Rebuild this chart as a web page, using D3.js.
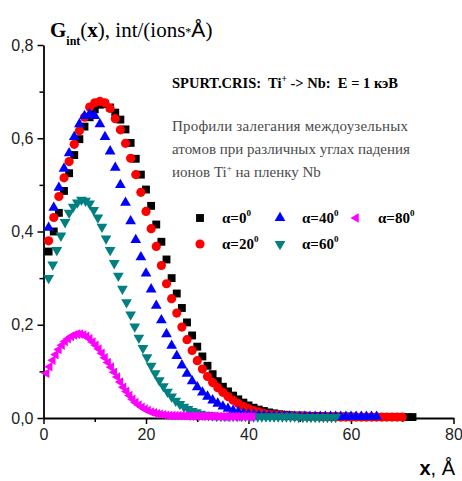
<!DOCTYPE html>
<html>
<head>
<meta charset="utf-8">
<script src="https://cdn.jsdelivr.net/npm/d3@7"></script>
<style>
  body { margin: 0; background: #fff; }
  svg { display: block; }
</style>
</head>
<body>
<svg id="chart" width="462" height="481"></svg>
<script>
// Incidence angles of the Ti+ ions (degrees)
const angles = ["0", "20", "40", "60", "80"];

// Depth grid of each profile, Å: first point and spacing
const depthStart = [1, 1, 1, 1, 0.6];
const depthStep = [1, 1, 1, 0.8, 0.6];

// Interstitial distributions G_int(x), int/(ions*Å)
const gAlpha0 = [
  0.357, 0.400, 0.440, 0.487, 0.525, 0.564, 0.598, 0.625, 0.645, 0.662,
  0.672, 0.673, 0.666, 0.655, 0.640, 0.619, 0.590, 0.556, 0.522, 0.490,
  0.455, 0.415, 0.378, 0.340, 0.300, 0.267, 0.236, 0.205, 0.177, 0.153,
  0.132, 0.112, 0.094, 0.079, 0.067, 0.057, 0.048, 0.040, 0.033, 0.027,
  0.022, 0.018, 0.015, 0.012, 0.010, 0.008, 0.007, 0.006, 0.005, 0.005,
  0.005, 0.004, 0.004, 0.004, 0.003, 0.003, 0.003, 0.003, 0.003, 0.003,
  0.002, 0.002, 0.002, 0.002, 0.002, 0.002, 0.002, 0.002, 0.002, 0.002,
  0.002, 0.002
];
const gAlpha20 = [
  0.380, 0.430, 0.475, 0.515, 0.550, 0.587, 0.616, 0.645, 0.667, 0.676,
  0.679, 0.676, 0.664, 0.642, 0.618, 0.589, 0.557, 0.522, 0.484, 0.443,
  0.406, 0.368, 0.327, 0.288, 0.256, 0.225, 0.195, 0.168, 0.145, 0.123,
  0.105, 0.089, 0.076, 0.065, 0.055, 0.046, 0.038, 0.031, 0.025, 0.020,
  0.016, 0.013, 0.010, 0.008, 0.007, 0.006, 0.005, 0.005, 0.004, 0.004,
  0.004, 0.003, 0.003, 0.003, 0.003, 0.003, 0.003, 0.002, 0.002, 0.002,
  0.002, 0.002, 0.002, 0.002, 0.002, 0.002, 0.002, 0.002, 0.002, 0.002
];
const gAlpha40 = [
  0.408, 0.451, 0.494, 0.535, 0.568, 0.603, 0.630, 0.648, 0.652, 0.648,
  0.630, 0.603, 0.572, 0.537, 0.500, 0.462, 0.422, 0.382, 0.345, 0.310,
  0.276, 0.241, 0.210, 0.180, 0.155, 0.133, 0.113, 0.095, 0.079, 0.066,
  0.055, 0.046, 0.038, 0.031, 0.025, 0.020, 0.016, 0.013, 0.010, 0.008,
  0.007, 0.006, 0.005, 0.005, 0.004, 0.004, 0.004, 0.004, 0.003, 0.003,
  0.003, 0.003, 0.003, 0.003, 0.003, 0.003, 0.003, 0.003, 0.003, 0.003,
  0.003, 0.003, 0.003, 0.003, 0.003
];
const gAlpha60 = [
  0.300, 0.329, 0.360, 0.391, 0.420, 0.440, 0.453, 0.462, 0.468, 0.466,
  0.460, 0.446, 0.430, 0.410, 0.385, 0.360, 0.332, 0.305, 0.277, 0.248,
  0.222, 0.196, 0.172, 0.150, 0.130, 0.112, 0.096, 0.081, 0.068, 0.056,
  0.046, 0.037, 0.030, 0.024, 0.019, 0.015, 0.012, 0.009, 0.007, 0.006,
  0.005, 0.004, 0.004, 0.004, 0.004, 0.004, 0.004, 0.004, 0.004, 0.003,
  0.003, 0.003, 0.003, 0.003, 0.003, 0.003, 0.003, 0.003, 0.003, 0.003,
  0.003, 0.002, 0.002, 0.002, 0.002, 0.002, 0.002, 0.002, 0.002, 0.002,
  0.002
];
const gAlpha80 = [
  0.096, 0.110, 0.124, 0.136, 0.147, 0.156, 0.164, 0.170, 0.175, 0.178,
  0.180, 0.180, 0.178, 0.175, 0.170, 0.163, 0.156, 0.148, 0.139, 0.129,
  0.119, 0.109, 0.098, 0.088, 0.077, 0.066, 0.057, 0.048, 0.040, 0.033,
  0.028, 0.023, 0.019, 0.016, 0.013, 0.011, 0.009, 0.008, 0.007, 0.006,
  0.005, 0.005, 0.005, 0.005, 0.005, 0.005, 0.004, 0.004, 0.004, 0.004,
  0.004, 0.004, 0.004, 0.004, 0.004, 0.004, 0.003, 0.003, 0.003, 0.003,
  0.003, 0.003, 0.003, 0.003, 0.003, 0.003, 0.003, 0.003
];

// Axis ticks
const xTicks = [0, 20, 40, 60, 80];
const xMinorTicks = [10, 30, 50, 70];
const yTicks = [0, 0.2, 0.4, 0.6, 0.8];
const yTickLabels = ["0,0", "0,2", "0,4", "0,6", "0,8"];
const yMinorTicks = [0.1, 0.3, 0.5, 0.7];

const profiles = [gAlpha0, gAlpha20, gAlpha40, gAlpha60, gAlpha80];

// Marker styling per angle
const markerStyle = [
  { type: d3.symbolSquare,   size: 62, rotate: 0,   color: "#000000" },
  { type: d3.symbolCircle,   size: 66, rotate: 0,   color: "#ff0000" },
  { type: d3.symbolTriangle, size: 50, rotate: 0,   color: "#0000ff" },
  { type: d3.symbolTriangle, size: 50, rotate: 180, color: "#008080" },
  { type: d3.symbolTriangle, size: 40, rotate: -90, color: "#ff00ff" }
];

const svg = d3.select("#chart");
const plot = { left: 43.5, right: 453.5, top: 45, bottom: 418 };

const x = d3.scaleLinear().domain([0, 80]).range([plot.left, plot.right]);
const y = d3.scaleLinear().domain([0, 0.8]).range([plot.bottom, plot.top]);

// ---- axes ----
const tickFont = "'Liberation Sans', Arial, sans-serif";

svg.append("g")
  .attr("transform", `translate(0,${plot.bottom})`)
  .call(d3.axisBottom(x).tickValues(xTicks).tickSize(6).tickSizeOuter(0).tickPadding(5)
    .tickFormat(d => String(d)));
svg.append("g")
  .attr("transform", `translate(0,${plot.bottom})`)
  .call(d3.axisBottom(x).tickValues(xMinorTicks).tickSize(4).tickSizeOuter(0).tickFormat(""))
  .select(".domain").remove();

svg.append("g")
  .attr("transform", `translate(${plot.left},0)`)
  .call(d3.axisLeft(y).tickValues(yTicks).tickSize(6).tickSizeOuter(0).tickPadding(4)
    .tickFormat((d, i) => yTickLabels[i]));
svg.append("g")
  .attr("transform", `translate(${plot.left},0)`)
  .call(d3.axisLeft(y).tickValues(yMinorTicks).tickSize(4).tickSizeOuter(0).tickFormat(""))
  .select(".domain").remove();

svg.selectAll(".domain").attr("stroke", "#000").attr("stroke-width", 1.8);
svg.selectAll(".tick line").attr("stroke", "#000").attr("stroke-width", 1.5);
svg.selectAll(".tick text")
  .attr("font-family", tickFont)
  .attr("font-size", 16)
  .attr("fill", "#222");

// ---- data markers ----
profiles.forEach((vals, s) => {
  const st = markerStyle[s];
  const sym = d3.symbol().type(st.type).size(st.size);
  svg.append("g")
    .selectAll("path")
    .data(vals.map((v, i) => ({ depth: depthStart[s] + i * depthStep[s], g: v })))
    .join("path")
    .attr("d", sym)
    .attr("transform", d => `translate(${x(d.depth)},${y(d.g)}) rotate(${st.rotate})`)
    .attr("fill", st.color);
});

// ---- y-axis title ----
const serif = "'Liberation Serif', 'Times New Roman', serif";
const yTitle = svg.append("text")
  .attr("x", 50).attr("y", 37)
  .attr("font-family", serif)
  .attr("font-size", 21)
  .attr("fill", "#000");
yTitle.append("tspan").attr("font-weight", "bold").text("G");
yTitle.append("tspan").attr("font-weight", "bold").attr("font-size", 12).attr("dy", 8).text("int");
yTitle.append("tspan").attr("dy", -8).text("(");
yTitle.append("tspan").attr("font-weight", "bold").text("x");
yTitle.append("tspan").text("), int/(ions");
yTitle.append("tspan").attr("font-size", 12).attr("dy", -1).text("*");
yTitle.append("tspan").attr("dy", 1).attr("font-family", tickFont).attr("font-size", 21).text("Å");
yTitle.append("tspan").text(")");

// ---- x-axis title ----
const xTitle = svg.append("text")
  .attr("x", 455).attr("y", 475)
  .attr("text-anchor", "end")
  .attr("font-family", tickFont)
  .attr("font-size", 20)
  .attr("fill", "#000");
xTitle.append("tspan").attr("font-weight", "bold").text("x");
xTitle.append("tspan").text(", Å");

// ---- heading ----
const head = svg.append("text")
  .attr("x", 172).attr("y", 88)
  .attr("font-family", serif)
  .attr("font-size", 14.5)
  .attr("font-weight", "bold")
  .attr("fill", "#000");
head.append("tspan").text("SPURT.CRIS:\u00a0 Ti");
head.append("tspan").attr("font-size", 9.5).attr("dy", -6).text("+");
head.append("tspan").attr("dy", 6).text(" -> Nb:\u00a0 E = 1 кэВ");

// ---- description ----
const descColor = "#4a4a4a";
svg.append("text")
  .attr("x", 172).attr("y", 131)
  .attr("font-family", serif).attr("font-size", 15).attr("fill", descColor)
  .attr("textLength", 236).attr("lengthAdjust", "spacing")
  .text("Профили залегания междоузельных");
svg.append("text")
  .attr("x", 172).attr("y", 154)
  .attr("font-family", serif).attr("font-size", 15).attr("fill", descColor)
  .attr("textLength", 238).attr("lengthAdjust", "spacing")
  .text("атомов при различных углах падения");
const line3 = svg.append("text")
  .attr("x", 172).attr("y", 177)
  .attr("font-family", serif).attr("font-size", 15).attr("fill", descColor);
line3.append("tspan").text("ионов Ti");
line3.append("tspan").attr("font-size", 9).attr("dy", -6).text("+");
line3.append("tspan").attr("dy", 6).text(" на пленку Nb");

// ---- legend ----
const legendPos = [
  { sx: 200, sy: 218 }, { sx: 200, sy: 244 },
  { sx: 280, sy: 218 }, { sx: 280, sy: 244 },
  { sx: 356, sy: 218 }
];
angles.forEach((a, s) => {
  const st = markerStyle[s];
  const p = legendPos[s];
  svg.append("path")
    .attr("d", d3.symbol().type(st.type).size(st.size)())
    .attr("transform", `translate(${p.sx},${p.sy}) rotate(${st.rotate})`)
    .attr("fill", st.color);
  const t = svg.append("text")
    .attr("x", p.sx + 22).attr("y", p.sy + 5)
    .attr("font-family", serif)
    .attr("font-size", 15)
    .attr("font-weight", "bold")
    .attr("fill", "#000");
  t.append("tspan").text("α=" + a);
  t.append("tspan").attr("font-size", 9).attr("dy", -7).text("0");
});
</script>
</body>
</html>
